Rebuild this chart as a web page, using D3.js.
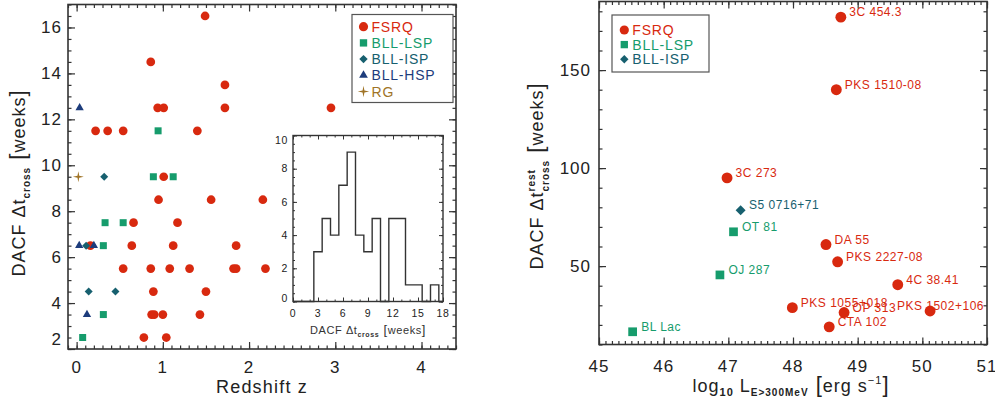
<!DOCTYPE html>
<html>
<head>
<meta charset="utf-8">
<script src="https://cdn.jsdelivr.net/npm/d3@7"></script>
<style>
body { margin: 0; background: #fff; }
svg text { font-family: "Liberation Sans", Arial, sans-serif; }
</style>
</head>
<body>
<div id="chart"></div>
<script>
// ---- left panel: redshift vs DACF cross time, per class ----
var fsrqZ   = [1.49, 0.86, 1.72, 1.72, 0.94, 1.01, 2.95, 0.22, 0.36, 0.54, 1.40, 1.01, 0.95, 1.56, 2.16,
               0.66, 1.17, 0.16, 0.64, 1.12, 1.85, 0.54, 0.86, 1.08, 1.31, 1.82, 1.85, 2.19, 0.89, 1.50,
               0.87, 0.90, 1.00, 1.43, 0.78, 1.04];
var fsrqLag = [16.5, 14.5, 13.5, 12.5, 12.5, 12.5, 12.5, 11.5, 11.5, 11.5, 11.5, 9.5, 8.5, 8.5, 8.5,
               7.5, 7.5, 6.5, 6.5, 6.5, 6.5, 5.5, 5.5, 5.5, 5.5, 5.5, 5.5, 5.5, 4.5, 4.5,
               3.5, 3.5, 3.5, 3.5, 2.5, 2.5];
var lspZ   = [0.945, 0.89, 1.12, 0.33, 0.54, 0.31, 0.31, 0.07];
var lspLag = [11.5, 9.5, 9.5, 7.5, 7.5, 6.5, 3.5, 2.5];
var ispZ   = [0.32, 0.11, 0.14, 0.45];
var ispLag = [9.5, 6.5, 4.5, 4.5];
var hspZ   = [0.035, 0.03, 0.20, 0.12];
var hspLag = [12.5, 6.5, 6.5, 3.5];
var rgZ    = [0.02];
var rgLag  = [9.5];

// inset histogram of the lags (bin edges in weeks, counts)
var histEdges  = [2.5, 3.5, 4.5, 5.5, 6.5, 7.5, 8.5, 9.5, 10.5, 11.5, 12.5, 13.5, 14.5, 15.5, 16.5, 17.5];
var histCounts = [3, 5, 4, 7, 9, 4, 3, 5, 0, 5, 5, 1, 1, 0, 1];

// ---- right panel: named sources ----
var srcNames = ["3C 454.3", "PKS 1510-08", "3C 273", "S5 0716+71", "OT 81", "OJ 287", "BL Lac",
                "DA 55", "PKS 2227-08", "4C 38.41", "PKS 1055+018", "OP 313", "PKS 1502+106", "CTA 102"];
var srcClass = ["FSRQ", "FSRQ", "FSRQ", "BLL-ISP", "BLL-LSP", "BLL-LSP", "BLL-LSP",
                "FSRQ", "FSRQ", "FSRQ", "FSRQ", "FSRQ", "FSRQ", "FSRQ"];
var srcLum   = [48.74, 48.67, 46.98, 47.19, 47.08, 46.87, 45.52, 48.51, 48.69, 49.62, 47.99, 48.79, 50.12, 48.56];
var srcLag   = [177, 140, 95, 78.5, 67.5, 45.5, 16.5, 61, 52.2, 40.5, 28.8, 26.3, 27.1, 19];

var leftClasses  = ["FSRQ", "BLL-LSP", "BLL-ISP", "BLL-HSP", "RG"];
var rightClasses = ["FSRQ", "BLL-LSP", "BLL-ISP"];

var classColor = {
    "FSRQ": "#d8290f",
    "BLL-LSP": "#169c6c",
    "BLL-ISP": "#17606f",
    "BLL-HSP": "#1d3c7c",
    "RG": "#a07427"
};

// thin four-point star used for radio galaxies
var symbolStar4 = {
    draw: function(ctx, size) {
        var r = Math.sqrt(size), w = r * 0.16;
        ctx.moveTo(0, -r); ctx.lineTo(w, -w); ctx.lineTo(r, 0); ctx.lineTo(w, w);
        ctx.lineTo(0, r); ctx.lineTo(-w, w); ctx.lineTo(-r, 0); ctx.lineTo(-w, -w);
        ctx.closePath();
    }
};

// returns path string + rotation for a class marker, k scales the size
function marker(cls, k) {
    if (cls == "FSRQ") return { d: d3.symbol(d3.symbolCircle, 60 * k)(), rot: 0 };
    if (cls == "BLL-LSP") return { d: d3.symbol(d3.symbolSquare, 49 * k)(), rot: 0 };
    if (cls == "BLL-ISP") return { d: d3.symbol(d3.symbolSquare, 32 * k)(), rot: 45 };
    if (cls == "BLL-HSP") return { d: d3.symbol(d3.symbolTriangle, 30 * k)(), rot: 0 };
    return { d: d3.symbol(symbolStar4, 30 * k)(), rot: 0 };
}

var svg = d3.select("#chart").append("svg")
    .attr("width", 995)
    .attr("height", 405);

var frameColor = "#333";

// draws IDL style inward ticks on all four sides plus a box
function drawAxes(g, x, y, o) {
    var w = x.range()[1], h = y.range()[0];
    var sides = [
        [d3.axisBottom(x), `translate(0,${h})`, o.xMajor, o.xMinor],
        [d3.axisTop(x), null, o.xMajor, o.xMinor],
        [d3.axisLeft(y), null, o.yMajor, o.yMinor],
        [d3.axisRight(y), `translate(${w},0)`, o.yMajor, o.yMinor]
    ];
    sides.forEach(function(s) {
        var minor = g.append("g").attr("transform", s[1])
            .call(s[0].tickValues(s[3]).tickSize(-o.minorLen).tickFormat(""));
        var major = g.append("g").attr("transform", s[1])
            .call(s[0].tickValues(s[2]).tickSize(-o.majorLen).tickFormat(""));
        [minor, major].forEach(function(a) {
            a.select(".domain").remove();
            a.selectAll("line").attr("stroke", frameColor).attr("stroke-width", o.tickWidth);
        });
    });

    g.append("rect")
        .attr("width", w).attr("height", h)
        .attr("fill", "none")
        .attr("stroke", frameColor)
        .attr("stroke-width", o.frameWidth);

    // tick labels
    g.selectAll(null).data(o.xMajor).enter().append("text")
        .attr("x", d => x(d))
        .attr("y", h + o.xLabelDy)
        .attr("text-anchor", "middle")
        .attr("font-size", o.fontSize)
        .attr("letter-spacing", o.spacing)
        .attr("fill", "#222")
        .text(d => d);
    g.selectAll(null).data(o.yMajor).enter().append("text")
        .attr("x", -o.yLabelDx)
        .attr("y", function(d, i) {
            var shift = 0;
            if (i == 0 && o.firstShift) shift = o.firstShift;
            if (i == o.yMajor.length - 1 && o.lastShift) shift = o.lastShift;
            return y(d) + o.fontSize * 0.35 + shift;
        })
        .attr("text-anchor", "end")
        .attr("font-size", o.fontSize)
        .attr("letter-spacing", o.spacing)
        .attr("fill", "#222")
        .text(d => d);
}

// ================= LEFT PANEL =================
var left = svg.append("g").attr("transform", "translate(68,4.5)");
var lx = d3.scaleLinear().domain([-0.1, 4.4]).range([0, 388]);
var ly = d3.scaleLinear().domain([2, 17]).range([344.5, 0]);

drawAxes(left, lx, ly, {
    xMajor: [0, 1, 2, 3, 4],
    xMinor: d3.range(-0.1, 4.41, 0.1).map(d => +d.toFixed(1)),
    yMajor: [2, 4, 6, 8, 10, 12, 14, 16],
    yMinor: d3.range(2, 17.01, 0.5),
    majorLen: 7, minorLen: 3.5, tickWidth: 1.2, frameWidth: 1.6,
    fontSize: 17, spacing: 1, xLabelDy: 24, yLabelDx: 6,
    firstShift: -10
});

var leftZ = [fsrqZ, lspZ, ispZ, hspZ, rgZ];
var leftLag = [fsrqLag, lspLag, ispLag, hspLag, rgLag];

leftClasses.forEach(function(cls, c) {
    var m = marker(cls, 1);
    left.selectAll(null)
        .data(leftZ[c].map((z, i) => [z, leftLag[c][i]]))
        .enter()
        .append("path")
        .attr("d", m.d)
        .attr("transform", d => `translate(${lx(d[0])},${ly(d[1])}) rotate(${m.rot})`)
        .attr("fill", classColor[cls]);
});

// axis titles
svg.append("text")
    .attr("x", 262).attr("y", 393)
    .attr("text-anchor", "middle")
    .attr("font-size", 18)
    .attr("letter-spacing", 1.2)
    .attr("fill", "#222")
    .text("Redshift z");

var lyt = svg.append("text")
    .attr("transform", "translate(25,183) rotate(-90)")
    .attr("text-anchor", "middle")
    .attr("font-size", 18)
    .attr("letter-spacing", 1)
    .attr("fill", "#222");
lyt.append("tspan").text("DACF  Δt");
lyt.append("tspan").attr("font-size", 10).attr("dy", 5).attr("font-weight", "bold").text("cross");
lyt.append("tspan").attr("font-size", 22).attr("dy", -5).text(" [");
lyt.append("tspan").text("weeks");
lyt.append("tspan").attr("font-size", 22).text("]");

// legend
var legL = svg.append("g").attr("transform", "translate(352,14.5)");
legL.append("rect")
    .attr("width", 101).attr("height", 88)
    .attr("fill", "#fff")
    .attr("stroke", "#555")
    .attr("stroke-width", 1.2);
leftClasses.forEach(function(cls, i) {
    var m = marker(cls, 1.1);
    var yy = 12.2 + i * 16.2;
    legL.append("path")
        .attr("d", m.d)
        .attr("transform", `translate(11.5,${yy}) rotate(${m.rot})`)
        .attr("fill", classColor[cls]);
    legL.append("text")
        .attr("x", 19.5).attr("y", yy + 5)
        .attr("font-size", 14)
        .attr("letter-spacing", 0.8)
        .attr("fill", classColor[cls])
        .text(cls);
});

// inset histogram
var inset = svg.append("g").attr("transform", "translate(293,135.5)");
var hx = d3.scaleLinear().domain([0, 18]).range([0, 150]);
var hy = d3.scaleLinear().domain([0, 10]).range([166, 0]);

inset.append("rect").attr("width", 150).attr("height", 166).attr("fill", "#fff");
drawAxes(inset, hx, hy, {
    xMajor: [0, 3, 6, 9, 12, 15, 18],
    xMinor: d3.range(0, 18.01, 1),
    yMajor: [0, 2, 4, 6, 8, 10],
    yMinor: d3.range(0, 10.01, 0.5),
    majorLen: 4, minorLen: 2, tickWidth: 1, frameWidth: 1.4,
    fontSize: 10.5, spacing: 0.6, xLabelDy: 15, yLabelDx: 5,
    firstShift: -3, lastShift: 5
});

var histPts = [[0, 0]].concat(histEdges.slice(0, -1).map((e, i) => [e, histCounts[i]]));
histPts.push([histEdges[histEdges.length - 1], 0]);
histPts.push([18, 0]);
inset.append("path")
    .attr("d", d3.line().x(d => hx(d[0])).y(d => hy(d[1])).curve(d3.curveStepAfter)(histPts))
    .attr("fill", "none")
    .attr("stroke", "#333")
    .attr("stroke-width", 1.4);

var ixt = inset.append("text")
    .attr("x", 75).attr("y", 198)
    .attr("text-anchor", "middle")
    .attr("font-size", 11)
    .attr("letter-spacing", 0.6)
    .attr("fill", "#333");
ixt.append("tspan").text("DACF  Δt");
ixt.append("tspan").attr("font-size", 7).attr("dy", 3).attr("font-weight", "bold").text("cross");
ixt.append("tspan").attr("font-size", 13).attr("dy", -3).text(" [");
ixt.append("tspan").text("weeks");
ixt.append("tspan").attr("font-size", 13).text("]");

// ================= RIGHT PANEL =================
var right = svg.append("g").attr("transform", "translate(599,1.5)");
var rx = d3.scaleLinear().domain([45, 51]).range([0, 388]);
var ry = d3.scaleLinear().domain([10, 185]).range([343, 0]);

drawAxes(right, rx, ry, {
    xMajor: [45, 46, 47, 48, 49, 50, 51],
    xMinor: d3.range(45, 51.01, 0.1).map(d => +d.toFixed(1)),
    yMajor: [50, 100, 150],
    yMinor: d3.range(10, 185.01, 10),
    majorLen: 7, minorLen: 3.5, tickWidth: 1.2, frameWidth: 1.6,
    fontSize: 17, spacing: 1, xLabelDy: 27, yLabelDx: 8
});

srcNames.forEach(function(name, i) {
    var m = marker(srcClass[i], 1.55);
    var px = rx(srcLum[i]), py = ry(srcLag[i]);
    right.append("path")
        .attr("d", m.d)
        .attr("transform", `translate(${px},${py}) rotate(${m.rot})`)
        .attr("fill", classColor[srcClass[i]]);
    var t = right.append("text")
        .attr("x", px + 8.5).attr("y", py - 0.8)
        .attr("font-size", 12)
        .attr("letter-spacing", 0.5)
        .attr("fill", classColor[srcClass[i]])
        .text(name);
    // keep labels inside the frame
    var len = t.node().getComputedTextLength();
    if (px + 8.5 + len > 386) t.attr("x", 386 - len - 1);
});

var legR = svg.append("g").attr("transform", "translate(612,15)");
legR.append("rect")
    .attr("width", 97).attr("height", 57)
    .attr("fill", "#fff")
    .attr("stroke", "#555")
    .attr("stroke-width", 1.2);
rightClasses.forEach(function(cls, i) {
    var m = marker(cls, 1.1);
    var yy = 15 + i * 14.6;
    legR.append("path")
        .attr("d", m.d)
        .attr("transform", `translate(12.3,${yy}) rotate(${m.rot})`)
        .attr("fill", classColor[cls]);
    legR.append("text")
        .attr("x", 20.3).attr("y", yy + 5)
        .attr("font-size", 14)
        .attr("letter-spacing", 0.8)
        .attr("fill", classColor[cls])
        .text(cls);
});

var rxt = svg.append("text")
    .attr("x", 791).attr("y", 392)
    .attr("text-anchor", "middle")
    .attr("font-size", 18)
    .attr("letter-spacing", 1)
    .attr("fill", "#222");
rxt.append("tspan").text("log");
rxt.append("tspan").attr("font-size", 11).attr("dy", 4).attr("font-weight", "bold").text("10");
rxt.append("tspan").attr("dy", -4).text(" L");
rxt.append("tspan").attr("font-size", 10).attr("dy", 4).attr("font-weight", "bold").text("E>300MeV");
rxt.append("tspan").attr("font-size", 22).attr("dy", -4).text(" [");
rxt.append("tspan").text("erg s");
rxt.append("tspan").attr("font-size", 11).attr("dy", -8).text("−1");
rxt.append("tspan").attr("font-size", 22).attr("dy", 8).text("]");

var ryt = svg.append("text")
    .attr("transform", "translate(543,176) rotate(-90)")
    .attr("text-anchor", "middle")
    .attr("font-size", 18)
    .attr("letter-spacing", 1)
    .attr("fill", "#222");
ryt.append("tspan").text("DACF  Δt");
var sup = ryt.append("tspan").attr("font-size", 10).attr("dy", -8).attr("font-weight", "bold").text("rest");
var supLen = sup.node().getComputedTextLength();
ryt.append("tspan").attr("font-size", 10).attr("dx", -supLen).attr("dy", 14).attr("font-weight", "bold").text("cross");
ryt.append("tspan").attr("font-size", 22).attr("dy", -6).text(" [");
ryt.append("tspan").text("weeks");
ryt.append("tspan").attr("font-size", 22).text("]");
</script>
</body>
</html>
